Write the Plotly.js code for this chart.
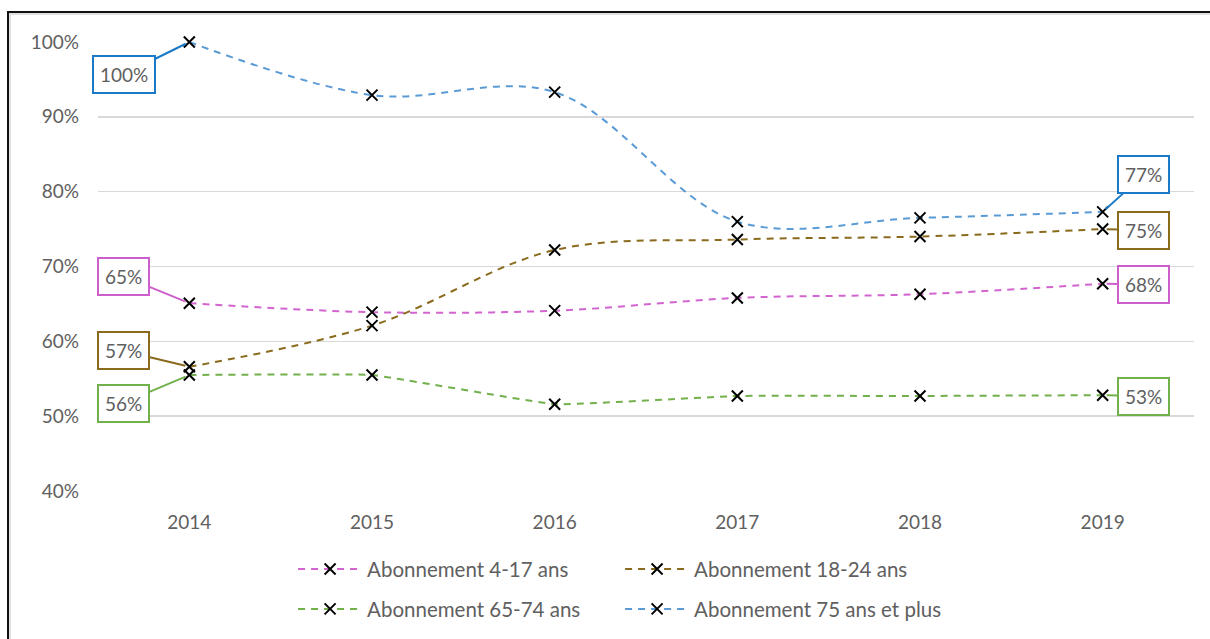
<!DOCTYPE html>
<html>
<head>
<meta charset="utf-8">
<script src="https://cdn.plot.ly/plotly-3.0.1.min.js"></script>
<style>
html,body{margin:0;padding:0;background:#fff;overflow:hidden;}
#chart{width:1210px;height:639px;}
#frame{position:absolute;left:7px;top:11px;width:1300px;height:700px;border-left:2px solid #111;border-top:2px solid #111;pointer-events:none;box-shadow: inset 2px 2px 0 #e0e0e0;}
</style>
</head>
<body>
<div id="chart"></div>
<div id="frame"></div>
<script>
const years = [2014, 2015, 2016, 2017, 2018, 2019];
const tickLabels = ['2014','2015','2016','2017','2018','2019'];
const s4_17  = [65.1, 63.9, 64.1, 65.8, 66.3, 67.7];
const s18_24 = [56.6, 62.1, 72.2, 73.6, 74.0, 75.0];
const s65_74 = [55.5, 55.5, 51.6, 52.7, 52.7, 52.8];
const s75    = [100.0, 92.9, 93.3, 76.0, 76.5, 77.3];
const names = ['Abonnement 4-17 ans','Abonnement 18-24 ans','Abonnement 65-74 ans','Abonnement 75 ans et plus'];
const lineColors = ['#D264D0','#8A6A1C','#72B04C','#5B9BD5'];
const boxColors  = ['#CC5FCB','#8A6A1C','#72B04C','#1A7AC8'];
const labelTexts = [['65%','68%'],['57%','75%'],['56%','53%'],['100%','77%']];
const labelOffsets = [[[-66,-27],[41,1]],[[-66,-16],[41,1]],[[-66,28],[41,1]],[[-65,32],[41,-37]]];
const smoothings = [1, 1, 0.25, 1];
const series = [s4_17, s18_24, s65_74, s75];
const legendIds = ['legend','legend','legend2','legend2'];

const FONT = 'Lato, "Liberation Sans", sans-serif';
const GREY = '#606060';

const traces = series.map((vals, i) => ({
  x: years, y: vals, name: names[i], type: 'scatter', mode: 'lines+markers',
  legend: legendIds[i], cliponaxis: false,
  line: {color: lineColors[i], width: 2, dash: '7px,6px', shape: 'spline', smoothing: smoothings[i]},
  marker: {symbol: 'x-thin', size: 11, color: '#000', line: {color: '#000', width: 2}},
  hoverinfo: 'skip'
}));

const annotations = [];
series.forEach((vals, i) => {
  [0, vals.length - 1].forEach((idx, k) => {
    annotations.push({
      x: years[idx], y: vals[idx], xref: 'x', yref: 'y',
      text: labelTexts[i][k], showarrow: true, arrowhead: 0, arrowwidth: 2,
      arrowcolor: boxColors[i], ax: labelOffsets[i][k][0], ay: labelOffsets[i][k][1],
      bordercolor: boxColors[i], borderwidth: 2, borderpad: 6, bgcolor: '#fff',
      font: {family: FONT, size: 19, color: GREY}, standoff: 4
    });
  });
});

const legendBase = {
  orientation: 'h', xanchor: 'left', yanchor: 'middle', x: 0.178,
  font: {family: FONT, size: 20.5, color: GREY}, itemwidth: 64,
  entrywidth: 248, bgcolor: 'rgba(0,0,0,0)', tracegroupgap: 0
};

const layout = {
  width: 1210, height: 639,
  margin: {l: 98, r: 16, t: 42, b: 148, autoexpand: false},
  paper_bgcolor: '#fff', plot_bgcolor: '#fff',
  font: {family: FONT, size: 19, color: GREY},
  showlegend: true,
  xaxis: {
    range: [2013.5, 2019.5], tickvals: years, ticktext: tickLabels,
    showgrid: false, zeroline: false, showline: false, ticks: '',
    ticklabelstandoff: 18, tickfont: {family: FONT, size: 19, color: GREY}, fixedrange: true
  },
  yaxis: {
    range: [40, 100], dtick: 10, ticksuffix: '%', showgrid: true,
    gridcolor: '#D9D9D9', gridwidth: 1.5, zeroline: false, showline: false, ticks: '',
    ticklabelstandoff: 18, tickfont: {family: FONT, size: 19, color: GREY}, fixedrange: true
  },
  legend: Object.assign({}, legendBase, {y: -0.174}),
  legend2: Object.assign({}, legendBase, {y: -0.263}),
  annotations: annotations
};

Plotly.newPlot('chart', traces, layout, {displayModeBar: false, staticPlot: true});
</script>
</body>
</html>
